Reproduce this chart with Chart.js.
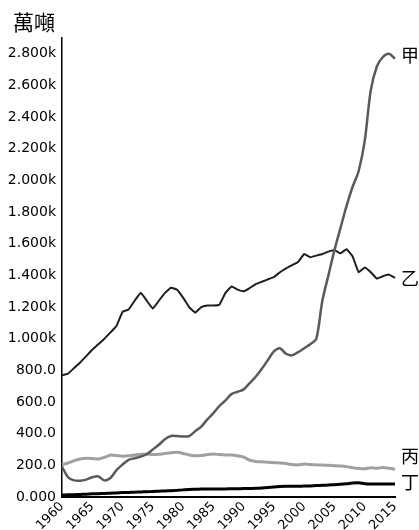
<!DOCTYPE html>
<html>
<head>
<meta charset="utf-8">
<script src="https://cdn.jsdelivr.net/npm/chart.js@4"></script>
<style>
  html, body { margin: 0; padding: 0; background: #fff; }
  #wrap { width: 419px; height: 530px; }
</style>
</head>
<body>
<div id="wrap"><canvas id="myChart" width="419" height="530"></canvas></div>
<script>
'use strict';

// ******* DATA *******
let years = [];
for (let y = 1960; y <= 2015; y++) { years.push(String(y)); }

let seriesNames = ['甲', '乙', '丙', '丁'];

let jiaValues = [192, 125, 105, 103, 110, 125, 130, 105, 120, 170,
  205, 235, 245, 255, 270, 300, 330, 365, 385, 385,
  382, 385, 415, 445, 490, 530, 575, 610, 650, 665,
  680, 720, 760, 810, 865, 920, 940, 905, 895, 915,
  940, 965, 1000, 1240, 1400, 1560, 1700, 1840, 1960, 2060,
  2250, 2570, 2720, 2780, 2800, 2770];

let yiValues = [770, 780, 815, 850, 890, 930, 965, 1000, 1040, 1080,
  1170, 1185, 1240, 1290, 1240, 1190, 1240, 1290, 1322, 1310,
  1260, 1200, 1165, 1200, 1210, 1210, 1215, 1290, 1330, 1310,
  1300, 1320, 1345, 1360, 1375, 1390, 1420, 1445, 1465, 1485,
  1535, 1515, 1525, 1535, 1550, 1560, 1540, 1565, 1520, 1420,
  1450, 1420, 1380, 1395, 1405, 1385];

let bingValues = [205, 215, 230, 240, 245, 243, 240, 250, 265, 262,
  258, 260, 265, 270, 272, 268, 270, 275, 280, 282,
  275, 265, 260, 262, 268, 272, 268, 265, 265, 260,
  252, 232, 225, 222, 220, 217, 215, 212, 205, 203,
  208, 205, 203, 202, 200, 198, 196, 192, 185, 180,
  178, 185, 182, 186, 182, 175];

let dingValues = [12, 14, 15, 16, 18, 20, 21, 22, 24, 26,
  28, 29, 30, 32, 33, 35, 37, 38, 40, 42,
  45, 48, 49, 50, 50, 50, 51, 51, 52, 52,
  53, 54, 55, 57, 60, 63, 66, 68, 68, 68,
  69, 70, 72, 74, 76, 78, 81, 84, 88, 90,
  84, 82, 82, 82, 82, 82];

let tickValues = [0, 200, 400, 600, 800, 1000, 1200, 1400, 1600, 1800, 2000, 2200, 2400, 2600, 2800];
let tickLabels = ['0.000', '200.0', '400.0', '600.0', '800.0', '1.000k', '1.200k', '1.400k',
  '1.600k', '1.800k', '2.000k', '2.200k', '2.400k', '2.600k', '2.800k'];

let unitLabel = '萬噸';

// ***** PLUGINS *****
const endLabels = {
  id: 'endLabels',
  afterDatasetsDraw(chart) {
    const ctx = chart.ctx;
    const shifts = [-3, 0, -13, -2];
    ctx.save();
    ctx.font = '18px "Noto Sans CJK TC"';
    ctx.fillStyle = '#000';
    ctx.textAlign = 'left';
    ctx.textBaseline = 'middle';
    chart.data.datasets.forEach((ds, i) => {
      let pts = chart.getDatasetMeta(i).data;
      let last = pts[pts.length - 1];
      ctx.fillText(ds.label, last.x + 6, last.y + shifts[i]);
    });
    // unit label above y axis
    ctx.font = '21px "Noto Sans CJK TC"';
    ctx.fillText(unitLabel, 13, 22);
    ctx.restore();
  }
};

// **** RENDER CHART *****
const data = {
  labels: years,
  datasets: [{
    label: seriesNames[0],
    data: jiaValues,
    borderColor: '#5a5a5a',
    borderWidth: 2.5,
    tension: 0.3
  },
  {
    label: seriesNames[1],
    data: yiValues,
    borderColor: '#1e1e1e',
    borderWidth: 2,
    tension: 0.1
  },
  {
    label: seriesNames[2],
    data: bingValues,
    borderColor: '#a0a0a0',
    borderWidth: 3,
    tension: 0.2
  },
  {
    label: seriesNames[3],
    data: dingValues,
    borderColor: '#000',
    borderWidth: 3,
    tension: 0.2
  }]
};

const config = {
  type: 'line',
  data: data,
  options: {
    responsive: false,
    animation: false,
    elements: { point: { radius: 0 } },
    layout: { padding: { top: 38, right: 24, left: 0, bottom: 0 } },
    plugins: {
      legend: { display: false },
      tooltip: { enabled: false }
    },
    scales: {
      x: {
        offset: false,
        grid: { display: false, drawTicks: false },
        border: { display: true, color: '#000', width: 2 },
        ticks: {
          autoSkip: false,
          maxRotation: 45,
          minRotation: 45,
          padding: 2,
          color: '#000',
          font: { family: 'DejaVu Sans', size: 13 },
          callback: function (val, index) {
            let yr = years[index];
            return Number(yr) % 5 === 0 ? yr : null;
          }
        },
        afterFit: function (scale) { scale.height = 33; }
      },
      y: {
        min: 0,
        max: 2900,
        grid: { display: false, drawTicks: false },
        border: { display: true, color: '#000', width: 1.5 },
        afterBuildTicks: function (scale) {
          scale.ticks = tickValues.map(v => ({ value: v }));
        },
        ticks: {
          color: '#000',
          padding: 6,
          font: { family: 'DejaVu Sans', size: 14 },
          callback: function (val) {
            let i = tickValues.indexOf(val);
            return i >= 0 ? tickLabels[i] : '';
          }
        },
        afterFit: function (scale) { scale.width = 62; }
      }
    }
  },
  plugins: [endLabels]
};

let canvasChart = document.getElementById('myChart');
const myChart = new Chart(canvasChart, config);
</script>
</body>
</html>
